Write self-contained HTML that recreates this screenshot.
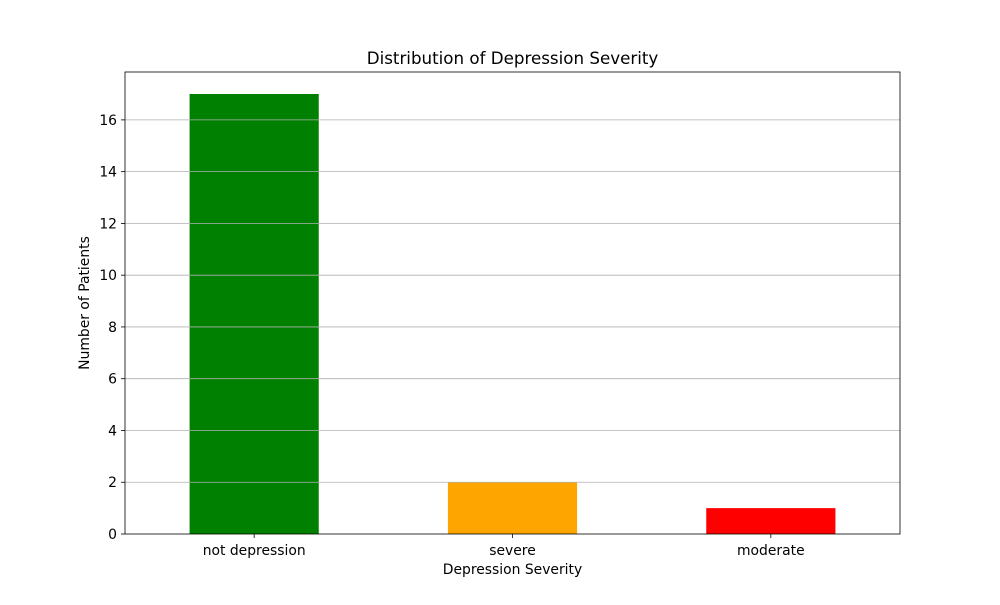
<!DOCTYPE html>
<html><head><meta charset="utf-8"><style>
body{margin:0;background:#fff;}
svg text{font-family:"DejaVu Sans","Liberation Sans",sans-serif;fill:#000;}
</style></head><body>
<svg id="chart" width="1000" height="600" xmlns="http://www.w3.org/2000/svg">
<rect width="1000" height="600" fill="#fff"/>
<g id="bars"></g>
<g id="grid"></g>
<g id="axes"></g>
<text x="512.5" y="64" text-anchor="middle" font-size="16.7">Distribution of Depression Severity</text>
<text x="512.5" y="574" text-anchor="middle" font-size="13.9">Depression Severity</text>
<text transform="translate(89,303) rotate(-90)" text-anchor="middle" font-size="13.9">Number of Patients</text>
</svg>
<script>
const categories = ["not depression", "severe", "moderate"];
const values = [17, 2, 1];
const colors = ["#008000", "#ffa500", "#ff0000"];
const yTicks = [0, 2, 4, 6, 8, 10, 12, 14, 16];

const L=125,R=900,T=72,B=534;
const yMax=Math.max(...values)*1.05;
const xS=v=>L+(v+0.5)*(R-L)/categories.length;
const yS=v=>B-v*(B-T)/yMax;
const NS="http://www.w3.org/2000/svg";
function mk(tag,attrs,parent){const e=document.createElementNS(NS,tag);for(const k in attrs)e.setAttribute(k,attrs[k]);document.getElementById(parent).appendChild(e);return e;}

categories.forEach((c,i)=>{
  const b=mk("rect",{x:xS(i-0.25),y:yS(values[i]),width:xS(i+0.25)-xS(i-0.25),height:B-yS(values[i]),fill:colors[i]},"bars");
  
  
  const t=mk("line",{x1:xS(i),x2:xS(i),y1:B,y2:B+4,stroke:"#000","stroke-width":0.8},"axes");
  
  
  const l=mk("text",{x:xS(i),y:B+21,"text-anchor":"middle","font-size":13.9},"axes");
  l.textContent=c;
  
  
});
yTicks.forEach(v=>{
  const y=yS(v);
  if(v>0){
    const g=mk("line",{x1:L,x2:R,y1:y,y2:y,stroke:"#b0b0b0","stroke-width":0.8},"grid");
    
    
  }
  const t=mk("line",{x1:L-4,x2:L,y1:y,y2:y,stroke:"#000","stroke-width":0.8},"axes");
  
  
  const l=mk("text",{x:L-8,y:y+5,"text-anchor":"end","font-size":13.9},"axes");
  l.textContent=v;
  
  
});
const f=mk("rect",{x:L,y:T,width:R-L,height:B-T,fill:"none",stroke:"#000","stroke-width":0.8},"axes");


</script>
</body></html>
